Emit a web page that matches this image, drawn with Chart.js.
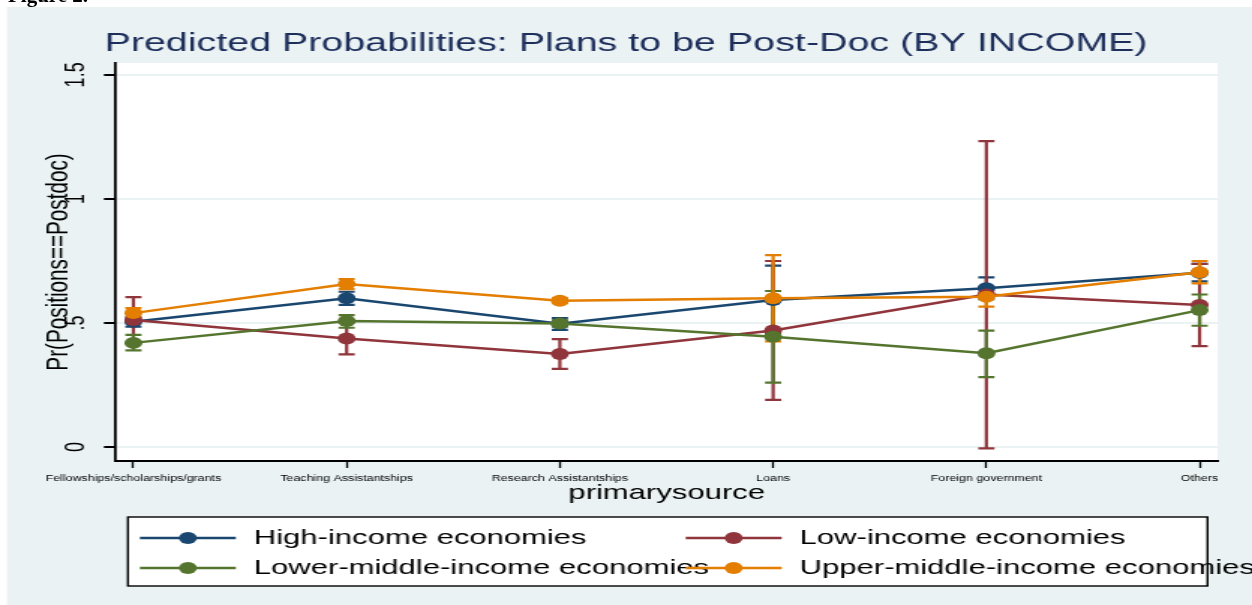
<!DOCTYPE html>
<html>
<head>
<meta charset="utf-8">
<title>Predicted Probabilities: Plans to be Post-Doc (BY INCOME)</title>
<script src="https://cdn.jsdelivr.net/npm/chart.js@4.4.1/dist/chart.umd.min.js"></script>
<style>
  html, body { margin: 0; padding: 0; background: #fff; overflow: hidden; }
  #wrap { position: relative; width: 1252px; height: 605px; }
  #chart { position: absolute; left: 0; top: 0; }
  #caption { position: absolute; left: 0; top: 0; width: 300px; height: 7px; overflow: hidden; z-index: 2; }
  #caption span { position: absolute; left: 8px; top: -15px; font: bold 21px "Liberation Serif", serif; line-height: 21px; white-space: nowrap; }
</style>
</head>
<body>
<div id="wrap">
  <div id="caption"><span>Figure 2.</span></div>
  <canvas id="chart" width="835" height="605" style="width:1252px;height:605px"></canvas>
</div>
<script>
// the Stata picture is stretched sideways, so the canvas is drawn narrow and widened by css
const stretch = 1252 / 835;

const categories = ['Fellowships/scholarships/grants', 'Teaching Assistantships', 'Research Assistantships',
                    'Loans', 'Foreign government', 'Others'];
const yTickValues = [0, 0.5, 1, 1.5];
const yTickLabels = ['0', '.5', '1', '1.5'];

const seriesNames = ['High-income economies', 'Low-income economies',
                     'Lower-middle-income economies', 'Upper-middle-income economies'];
const seriesColors = ['#1a476f', '#90353b', '#55752f', '#e37e00'];

const highIncome   = [0.505, 0.600, 0.497, 0.593, 0.640, 0.703];
const highIncomeLo = [0.485, 0.573, 0.472, 0.455, 0.596, 0.668];
const highIncomeHi = [0.525, 0.626, 0.520, 0.731, 0.684, 0.738];

const lowIncome   = [0.512, 0.438, 0.375, 0.470, 0.615, 0.573];
const lowIncomeLo = [0.420, 0.374, 0.315, 0.190, -0.005, 0.407];
const lowIncomeHi = [0.604, 0.502, 0.435, 0.750, 1.233, 0.738];

const lowerMiddle   = [0.420, 0.508, 0.498, 0.445, 0.378, 0.552];
const lowerMiddleLo = [0.390, 0.481, 0.485, 0.260, 0.282, 0.489];
const lowerMiddleHi = [0.452, 0.532, 0.511, 0.629, 0.469, 0.615];

const upperMiddle   = [0.540, 0.657, 0.590, 0.600, 0.606, 0.705];
const upperMiddleLo = [0.520, 0.637, 0.580, 0.426, 0.566, 0.660];
const upperMiddleHi = [0.560, 0.677, 0.600, 0.774, 0.646, 0.750];

const series = [
  { name: seriesNames[0], color: seriesColors[0], y: highIncome, lo: highIncomeLo, hi: highIncomeHi },
  { name: seriesNames[1], color: seriesColors[1], y: lowIncome, lo: lowIncomeLo, hi: lowIncomeHi },
  { name: seriesNames[2], color: seriesColors[2], y: lowerMiddle, lo: lowerMiddleLo, hi: lowerMiddleHi },
  { name: seriesNames[3], color: seriesColors[3], y: upperMiddle, lo: upperMiddleLo, hi: upperMiddleHi }
];

const FONT = '"Liberation Sans", Arial, sans-serif';
Chart.defaults.font.family = FONT;
Chart.defaults.color = '#000';

const stataBackground = {
  id: 'stataBackground',
  beforeDraw(chart) {
    const { ctx, chartArea: a, width, height } = chart;
    ctx.save();
    ctx.fillStyle = '#ffffff';
    ctx.fillRect(0, 0, width, height);
    ctx.fillStyle = '#eaf2f3';
    ctx.fillRect(7 / stretch, 7, width, height);
    ctx.fillStyle = '#ffffff';
    ctx.fillRect(a.left, a.top, a.right - a.left, a.bottom - a.top);
    ctx.restore();
  }
};

// confidence intervals (rcap), drawn under every line and marker
const errorBars = {
  id: 'errorBars',
  beforeDatasetsDraw(chart) {
    const { ctx, chartArea: a, scales: { x, y } } = chart;
    const cap = 5.4;
    ctx.save();
    ctx.beginPath();
    ctx.rect(a.left, a.top, a.right - a.left, a.bottom - a.top);
    ctx.clip();
    series.forEach(s => {
      ctx.strokeStyle = s.color;
      ctx.lineWidth = 2.2;
      s.lo.forEach((lo, i) => {
        const px = x.getPixelForValue(i);
        const top = y.getPixelForValue(s.hi[i]);
        const bot = y.getPixelForValue(lo);
        ctx.beginPath();
        ctx.moveTo(px, top); ctx.lineTo(px, bot);
        ctx.moveTo(px - cap, top); ctx.lineTo(px + cap, top);
        ctx.moveTo(px - cap, bot); ctx.lineTo(px + cap, bot);
        ctx.stroke();
      });
    });
    ctx.restore();
  }
};

const stataLegend = {
  id: 'stataLegend',
  afterDraw(chart) {
    const ctx = chart.ctx;
    const box = { left: 85.3, top: 517, right: 805.3, bottom: 586 };
    const cols = [93.3, 457.3];
    const rows = [538, 568];
    ctx.save();
    ctx.fillStyle = '#ffffff';
    ctx.fillRect(box.left, box.top, box.right - box.left, box.bottom - box.top);
    ctx.strokeStyle = '#000';
    ctx.lineWidth = 1.4;
    ctx.strokeRect(box.left, box.top, box.right - box.left, box.bottom - box.top);
    series.forEach((s, i) => {
      const x0 = cols[i % 2];
      const yy = rows[Math.floor(i / 2)];
      ctx.strokeStyle = s.color;
      ctx.lineWidth = 2.5;
      ctx.beginPath();
      ctx.moveTo(x0, yy); ctx.lineTo(x0 + 64, yy);
      ctx.stroke();
      ctx.fillStyle = s.color;
      ctx.beginPath();
      ctx.arc(x0 + 32, yy, 6, 0, Math.PI * 2);
      ctx.fill();
      ctx.fillStyle = '#000';
      ctx.font = '20.7px ' + FONT;
      ctx.textBaseline = 'middle';
      ctx.textAlign = 'left';
      ctx.fillText(s.name, x0 + 76, yy);
    });
    ctx.restore();
  }
};

const ctx = document.getElementById('chart').getContext('2d');
const chart = new Chart(ctx, {
  type: 'line',
  data: {
    datasets: series.map((s, k) => ({
      label: s.name,
      data: s.y.map((v, i) => ({ x: i, y: v })),
      borderColor: s.color,
      backgroundColor: s.color,
      pointBackgroundColor: s.color,
      pointBorderColor: s.color,
      pointBorderWidth: 0,
      pointRadius: 6,
      borderWidth: 2.5,
      tension: 0,
      yAxisID: 'y',
      order: series.length - k
    }))
  },
  options: {
    responsive: false,
    animation: false,
    events: [],
    layout: { padding: { left: 0, right: 0, top: 0, bottom: 94 } },
    plugins: {
      legend: { display: false },
      tooltip: { enabled: false },
      title: {
        display: true,
        text: 'Predicted Probabilities: Plans to be Post-Doc (BY INCOME)',
        color: '#1d2e5b',
        font: { size: 26.3, weight: 'normal' },
        padding: { top: 28.2, bottom: 3.2 }
      }
    },
    scales: {
      x: {
        type: 'linear',
        min: -0.082,
        max: 5.084,
        afterBuildTicks: scale => { scale.ticks = categories.map((c, i) => ({ value: i })); },
        afterFit: scale => { scale.height = 50; },
        ticks: {
          callback: v => categories[v],
          autoSkip: false,
          maxRotation: 0,
          minRotation: 0,
          padding: 6,
          font: { size: 8.3 },
          color: '#000'
        },
        grid: { drawOnChartArea: false, drawTicks: true, tickLength: 7, tickColor: '#000', tickWidth: 1.3 },
        border: { display: true, color: '#000', width: 2 },
        title: {
          display: true,
          text: 'primarysource',
          font: { size: 20.7 },
          color: '#000',
          padding: { top: 0, bottom: 5.6 }
        }
      },
      y: {
        type: 'linear',
        position: 'left',
        min: -0.056,
        max: 1.548,
        afterBuildTicks: scale => { scale.ticks = yTickValues.map(v => ({ value: v })); },
        afterFit: scale => { scale.width = 77.3; },
        ticks: {
          callback: v => yTickLabels[yTickValues.indexOf(v)],
          minRotation: 90,
          maxRotation: 90,
          crossAlign: 'center',
          padding: 5.5,
          font: { size: 18 },
          color: '#000'
        },
        grid: { color: '#eaf2f3', lineWidth: 2, tickLength: 8, tickColor: '#000', tickWidth: 2 },
        border: { display: true, color: '#000', width: 1.8 },
        title: {
          display: true,
          text: 'Pr(Positions==Postdoc)',
          font: { size: 20.7 },
          color: '#000',
          padding: { top: 26.6, bottom: 0 }
        }
      },
      yR: {
        type: 'linear',
        position: 'right',
        afterFit: scale => { scale.width = 23; },
        ticks: { display: false },
        grid: { display: false },
        border: { display: false }
      }
    }
  },
  plugins: [stataBackground, errorBars, stataLegend]
});
</script>
</body>
</html>
